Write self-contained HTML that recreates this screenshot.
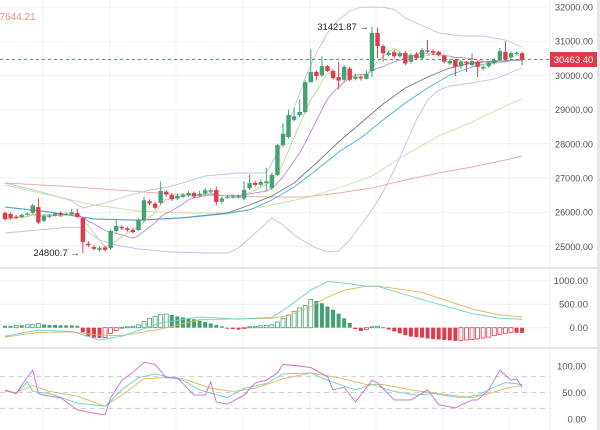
<!DOCTYPE html>
<html><head><meta charset="utf-8"><style>
html,body{margin:0;padding:0;background:#fff;}
svg{display:block;font-family:"Liberation Sans",sans-serif;}
</style></head><body>
<svg id="chart" width="600" height="430" viewBox="0 0 600 430" xmlns="http://www.w3.org/2000/svg"></svg>
<script>
// ---- data ----
const opens  = [25980,25950,25870,25860,25930,25980,26150,25750,25870,25900,25980,25930,25940,25980,25830,25080,24980,24900,24970,24950,25450,25570,25530,25480,25480,25770,26320,26250,26270,26600,26500,26400,26450,26500,26560,26480,26550,26600,26650,26310,26440,26450,26450,26400,26700,26860,26800,26850,26710,27090,27960,28200,28700,28840,28930,29800,30100,30000,30270,30130,29950,29870,30200,29900,29950,29900,30130,31240,30860,30600,30680,30560,30660,30400,30620,30500,30730,30710,30690,30580,30350,30450,30270,30400,30300,30400,30200,30270,30360,30450,30690,30530,30630,30650];
const closes = [25800,25830,25850,25920,25960,26200,25700,25880,25900,25960,25920,25960,26000,25860,25130,25030,24930,24950,24900,25450,25600,25530,25480,25420,25770,26350,26260,26130,26620,26520,26380,26480,26500,26560,26460,26540,26640,26640,26300,26400,26450,26460,26470,26650,26850,26800,26880,26900,27090,27960,28290,28840,28800,28930,29800,30100,29980,30270,30130,29920,29850,30250,29870,29950,29920,30050,31240,30860,30650,30660,30560,30650,30350,30600,30500,30740,30700,30660,30600,30400,30420,30250,30400,30350,30420,30250,30250,30370,30450,30710,30470,30650,30660,30463.4];
const highs  = [26020,25990,25920,25960,26000,26250,26400,25920,25950,26010,26020,26000,26100,26100,25850,25150,25050,25000,25020,25500,25800,25620,25580,25530,25820,26450,26380,26300,26900,26650,26550,26540,26560,26620,26600,26620,26700,26700,26750,26450,26500,26520,26520,26900,27100,26920,26950,27300,27150,28000,28600,29000,29050,29300,29850,30770,30150,30550,30300,30180,30400,30300,30250,30050,30000,30150,31421.87,31400,30900,30720,30750,30700,30720,30650,30680,30800,31035,30760,30720,30600,30480,30480,30450,30420,30650,30420,30300,30420,30500,30800,31000,30700,30700,30700];
const lows   = [25750,25780,25800,25820,25900,25950,25650,25700,25830,25870,25880,25900,25900,25830,24800,24980,24880,24850,24850,24900,25400,25480,25430,25380,25450,25720,26200,26080,26220,26450,26330,26350,26420,26450,26400,26440,26500,26560,26200,26250,26400,26400,26400,26350,26650,26750,26750,26600,26650,27050,27900,28150,28650,28780,28900,29800,29850,29950,30100,29880,29600,29800,29820,29850,29850,29880,29950,30500,30400,30550,30500,30520,30300,30350,30450,30450,30650,30600,30550,30350,30300,29980,30200,30100,30250,29950,30150,30220,30320,30420,30420,30480,30600,30300];
const maRedIdx = [0,10,20,30,40,48,54,60,66,72,78,84,90,93];
const maRedVal = [26854,26766,26649,26532,26474,26444,26444,26561,26708,26942,27146,27322,27526,27644.21];
const maGreenIdx = [0,8,16,24,32,40,48,54,60,66,72,78,84,90,93];
const maGreenVal = [26795,26503,26210,26035,25976,25976,26210,26415,26708,27059,27673,28229,28638,29106,29310];
const maBlueIdx = [0,8,16,24,32,40,44,48,52,56,60,64,68,72,76,80,84,88,93];
const maBlueVal = [26152,26006,25800,25760,25830,25960,26064,26357,26737,27234,27760,28170,28696,29193,29632,30012,30246,30392,30480];
const maGrayIdx = [0,8,16,24,32,40,44,48,52,56,60,64,68,72,76,80,84,88,93];
const maGrayVal = [26152,26006,25800,25770,25840,25976,26210,26474,26854,27439,28053,28609,29164,29632,29954,30216,30363,30421,30450];
const bbUpIdx = [0,6,12,14,18,22,26,30,36,42,47,50,52,54,56,58,60,62,64,66,68,70,72,74,76,78,82,86,90,93];
const bbUpVal = [26854,26620,26327,26122,26269,26474,26649,26766,27059,27146,27146,28024,29047,29924,30655,31240,31620,31883,31990,32000,31990,31930,31678,31532,31386,31240,31152,31152,31035,30830];
const bbLoIdx = [0,6,12,14,17,20,24,30,36,40,42,45,48,50,52,54,56,58,60,62,64,66,68,70,72,74,76,78,80,84,88,90,92,93];
const bbLoVal = [25391,25479,25567,25538,25187,25040,24924,24836,24807,24807,24953,25391,25830,25625,25333,25128,24953,24836,24866,25187,25625,26064,26591,27234,27965,28696,29281,29573,29690,29778,29895,30012,30158,30216];
const macdHist = [40,40,50,50,60,70,90,70,60,60,50,50,50,40,-100,-180,-210,-220,-210,-120,-60,10,20,30,60,130,200,240,280,290,270,240,220,200,180,150,120,90,60,30,-20,-30,-40,-20,20,30,40,50,60,120,200,270,350,420,470,600,570,520,450,380,300,200,100,-30,-70,-40,20,30,10,-40,-80,-120,-160,-190,-200,-210,-230,-240,-250,-260,-270,-280,-270,-260,-250,-240,-220,-200,-170,-140,-120,-100,-110,-110];
const difIdx = [0,6,12,17,21,28,35,42,48,51,55,58,61,65,67,75,84,89,93];
const difVal = [-180,-50,-80,-260,-180,100,230,180,220,450,800,980,950,880,880,600,300,200,180];
const deaIdx = [0,6,12,17,21,28,35,42,48,51,55,58,61,65,67,75,84,89,93];
const deaVal = [-200,-100,-90,-160,-170,-30,170,190,200,260,450,650,800,880,890,750,400,270,230];
const kIdx = [0,2,4,5,8,13,18,21,24,27,30,32,35,40,43,47,50,55,58,63,66,70,74,77,82,85,88,90,93];
const kVal = [55,48,70,52,48,30,24,55,78,85,78,73,55,40,58,67,85,87,73,55,65,52,45,48,40,45,60,69,65];
const dIdx = [0,2,5,8,13,18,21,25,29,32,37,41,45,50,55,60,65,68,73,78,84,87,91,93];
const dVal = [52,50,63,52,43,24,45,76,78,76,58,52,58,76,87,78,65,65,55,48,40,48,60,63];
const jIdx = [0,2,4,5,6,7,10,13,17,18,19,21,23,25,27,29,31,34,36,37,38,40,43,45,47,49,50,53,55,58,59,61,63,66,67,70,73,76,78,81,84,85,87,89,91,92,93];
const jVal = [55,48,79,92,48,45,40,17,9,8,40,73,88,107,103,78,78,45,45,70,32,28,45,68,73,87,103,100,97,80,55,60,32,73,68,36,36,55,27,21,36,36,55,92,73,76,60];
const priceTicks = [32000,31000,30000,29000,28000,27000,26000,25000];
const macdTicks = [1000,500,0];
const stochTicks = [100,50,0];

const svg = document.getElementById('chart');
const NS = 'http://www.w3.org/2000/svg';
const xOf = i => 5 + i * 5.56;
const yP = v => 7 + (32000 - v) * 0.0342;
const yM = v => 327.7 - v * 0.047;
const yS = v => 419 - v * 0.53;
function el(tag, attrs, parent) {
  const e = document.createElementNS(NS, tag);
  for (const k in attrs) e.setAttribute(k, attrs[k]);
  (parent || svg).appendChild(e);
  return e;
}
function txt(s, x, y, fill, size, name, anchor) {
  const t = el('text', {x: x, y: y, fill: fill, 'font-size': size, 'text-anchor': anchor || 'start'});
  t.textContent = s;
  
  
  return t;
}
function line(idx, vals, yf, color, name, w) {
  const d = idx.map((i, k) => (k ? 'L' : 'M') + xOf(i).toFixed(1) + ' ' + yf(vals[k]).toFixed(1)).join(' ');
  const p = el('path', {d: d, fill: 'none', stroke: color, 'stroke-width': w || 0.9});
  
  
  return p;
}

const vGrid = [43, 110, 176, 243, 310, 376, 443, 509];
vGrid.forEach(x => {
  const g = el('line', {x1: x, y1: 0, x2: x, y2: 430, stroke: '#eef0f4', 'stroke-width': 1});
  
  
});
priceTicks.forEach(v => {
  const g = el('line', {x1: 0, y1: yP(v), x2: 550, y2: yP(v), stroke: '#eef0f4'});
  
  
  const t = txt(v.toFixed(2), 555, yP(v) + 3.5, '#555', 9.5, 'price-tick-label');
  t.setAttribute('textLength', '38');
  t.setAttribute('lengthAdjust', 'spacingAndGlyphs');
});
macdTicks.forEach(v => {
  const g = el('line', {x1: 0, y1: yM(v), x2: 550, y2: yM(v), stroke: '#eef0f4'});
  
  
  txt(v.toFixed(2), 588, yM(v) + 3.5, '#555', 9.5, 'macd-tick-label', 'end');
});
stochTicks.forEach(v => {
  txt(v.toFixed(2), 586, yS(v) + 3.5, '#555', 9.5, 'stoch-tick-label', 'end');
});
[80, 50, 20].forEach(v => {
  const g = el('line', {x1: 0, y1: yS(v), x2: 550, y2: yS(v), stroke: '#cfcfcf', 'stroke-dasharray': '5,4'});
  
  
});
[268, 348].forEach(y => {
  const s = el('line', {x1: 0, y1: y, x2: 600, y2: y, stroke: '#dcdfe4', 'stroke-width': 1.5});
  
  
});
const ax = el('line', {x1: 550, y1: 0, x2: 550, y2: 430, stroke: '#eceef2'});


const sb = el('rect', {x: 597, y: 0, width: 3, height: 430, fill: '#e4e6ea'});



line(bbUpIdx, bbUpVal, yP, '#bcc4ee', 'bollinger-upper');
line(bbLoIdx, bbLoVal, yP, '#bcc4ee', 'bollinger-lower');
line(maRedIdx, maRedVal, yP, '#f3a8a8', 'ma-red');
line(maGreenIdx, maGreenVal, yP, '#c6e0a2', 'ma-green');
line(maGrayIdx, maGrayVal, yP, '#7a7a7a', 'ma-gray');
line(maBlueIdx, maBlueVal, yP, '#4fb0dc', 'ma-blue');
function sma(n) {
  return closes.map((c, i) => {
    const s = closes.slice(Math.max(0, i - n + 1), i + 1);
    return s.reduce((a, b) => a + b, 0) / s.length;
  });
}
const allIdx = closes.map((c, i) => i);
line(allIdx, sma(10), yP, '#c189e0', 'ma10-line');
line(allIdx, sma(5), yP, '#b3dd88', 'ma5-line');

const cp = closes[closes.length - 1];
const cl = el('line', {x1: 0, y1: yP(cp), x2: 550, y2: yP(cp), stroke: '#e0505e', 'stroke-dasharray': '3,3'});



closes.forEach((c, i) => {
  const o = opens[i], up = c >= o;
  const col = up ? '#45a173' : '#df3d4d';
  const x = xOf(i);
  const w = el('line', {x1: x, y1: yP(highs[i]), x2: x, y2: yP(lows[i]), stroke: col, 'stroke-width': 1});
  
  
  const top = yP(Math.max(o, c)), h = Math.max(1.2, Math.abs(yP(o) - yP(c)));
  const b = el('rect', {x: x - 2.2, y: top, width: 4.4, height: h, fill: col});
  
  
});

const hiI = highs.indexOf(Math.max(...highs));
txt(highs[hiI].toFixed(2) + ' \u2192', xOf(hiI) - 3, yP(highs[hiI]) + 3, '#222', 9.5, 'high-annotation', 'end');
const loI = lows.indexOf(Math.min(...lows));
txt('24800.7 \u2192', xOf(loI) - 3, yP(lows[loI]) + 3, '#222', 9.5, 'low-annotation', 'end');
txt(maRedVal[maRedVal.length - 1].toFixed(2), -6, 20, '#e98c8c', 10, 'ma-value-label');
const pb = el('rect', {x: 550, y: yP(cp) - 7.5, width: 47, height: 15, fill: '#e0394b'});


txt(cp.toFixed(2), 573.5, yP(cp) + 3.5, '#fff', 9.5, 'current-price-value', 'middle');

macdHist.forEach((v, i) => {
  const prev = i ? macdHist[i - 1] : v;
  const pos = v >= 0;
  const col = pos ? '#45a173' : '#df3d4d';
  const hollow = v > prev;
  const y0 = yM(0), y1 = yM(v);
  const r = el('rect', {x: xOf(i) - 2, y: Math.min(y0, y1), width: 4, height: Math.max(1, Math.abs(y1 - y0)),
    fill: hollow ? '#fff' : col, stroke: col, 'stroke-width': hollow ? 0.8 : 0});
  
  
});
line(deaIdx, deaVal, yM, '#dcb85a', 'macd-dea-line');
line(difIdx, difVal, yM, '#6cd0c6', 'macd-dif-line');

line(dIdx, dVal, yS, '#dcb85a', 'stoch-d-line');
line(kIdx, kVal, yS, '#6cd0c6', 'stoch-k-line');
line(jIdx, jVal, yS, '#cc6adb', 'stoch-j-line');
</script>
</body></html>
